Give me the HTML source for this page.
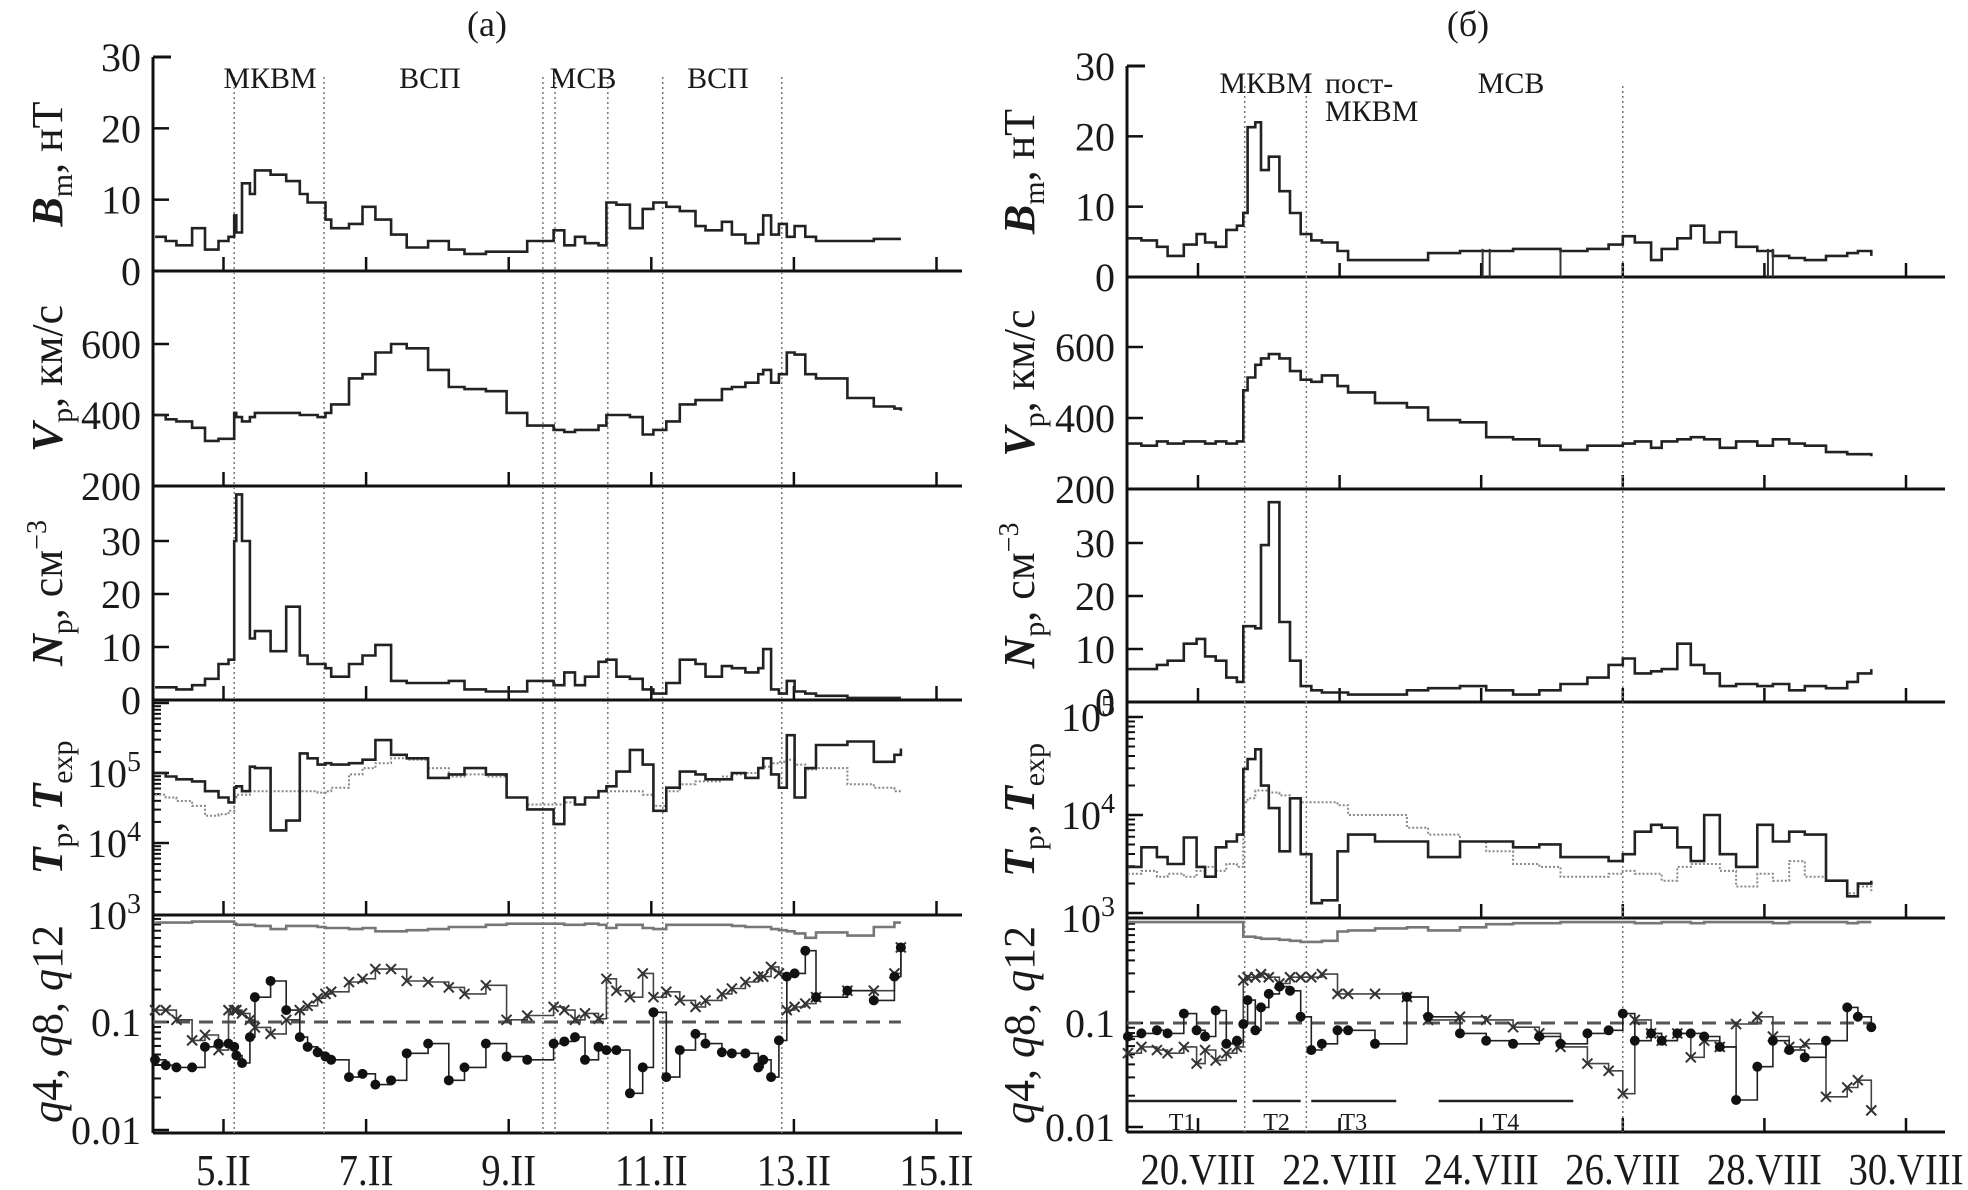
<!DOCTYPE html>
<html><head><meta charset="utf-8"><style>
html,body{margin:0;padding:0;background:#fff}
svg{display:block}
text{font-family:"Liberation Serif","DejaVu Serif",serif;fill:#1a1a1a}
</style></head><body>
<svg id="fig" width="1968" height="1190" viewBox="0 0 1968 1190" xmlns="http://www.w3.org/2000/svg">
<text x="487" y="36" font-size="36" text-anchor="middle">(а)</text>
<text x="1468" y="36" font-size="36" text-anchor="middle">(б)</text>
<g id="gA"></g>
<g id="gB"></g>
</svg>
<script>
// ---------- data: left (а), February ----------
const daysA=[4.04,4.19,4.34,4.56,4.74,4.93,5.07,5.15,5.18,5.26,5.37,5.44,5.66,5.88,6.07,6.18,6.32,6.43,6.51,6.76,6.95,7.13,7.35,7.57,7.87,8.16,8.38,8.68,8.97,9.26,9.63,9.78,9.93,10.07,10.26,10.37,10.51,10.70,10.88,11.03,11.21,11.40,11.62,11.76,11.99,12.13,12.32,12.50,12.57,12.68,12.79,12.90,13.01,13.16,13.31,13.75,14.12,14.41,14.50];
const bmA=[4.8,4.2,3.6,6.0,3.0,4.2,4.8,7.8,5.4,12.3,10.8,14.1,13.5,12.6,10.8,9.6,9.6,7.2,6.0,6.6,9.0,7.2,5.1,3.3,4.2,3.0,2.4,2.7,2.7,4.2,5.7,3.6,4.8,3.9,3.6,9.6,9.3,6.0,8.7,9.6,9.0,8.4,6.3,5.7,6.9,5.1,3.9,5.1,7.8,5.1,6.6,4.8,6.3,4.8,4.2,4.2,4.5,4.5,4.5];
const vpA=[400,388,382,364,327,333,333,406,394,382,394,406,406,406,400,400,394,406,430,503,515,576,600,588,527,479,473,467,406,370,358,352,358,358,370,400,400,394,345,358,382,430,442,442,473,479,491,515,527,491,515,576,570,515,503,448,424,418,412];
const npA=[2.4,2.4,2,2.8,4,6.8,7.6,30,38.8,30,11.6,13,9.2,17.6,8.4,6.8,6.8,6,4.4,6.8,8.4,10.4,3.6,3.2,3.2,3.6,2,1.6,1.6,3.6,2.8,5.2,2.8,4.4,7.2,7.6,4.4,4,2,1.2,3.2,7.6,6.8,4.4,6.4,6,5.2,6,9.6,2,1.2,3.6,1.6,1.2,0.8,0.4,0.4,0.4,0.4];
const logTpA=[5.0,4.95,4.91,4.88,4.74,4.65,4.58,4.79,4.81,4.74,5.09,5.07,4.18,4.32,5.28,5.21,5.12,5.14,5.12,5.14,5.19,5.47,5.26,5.21,4.93,4.98,5.07,4.98,4.65,4.48,4.27,4.65,4.55,4.65,4.74,4.81,5.02,5.33,5.12,4.46,4.79,5.02,4.98,4.91,4.91,5.0,4.93,5.07,5.21,4.98,4.79,5.54,4.65,5.07,5.40,5.45,5.16,5.26,5.35];
const logTexpA=[4.69,4.65,4.60,4.53,4.39,4.41,4.46,4.65,4.69,4.69,4.74,4.74,4.74,4.74,4.74,4.74,4.72,4.74,4.79,4.98,5.07,5.14,5.21,5.19,5.07,4.95,4.98,4.95,4.65,4.55,4.55,4.58,4.55,4.65,4.74,4.74,4.74,4.74,4.69,4.53,4.74,4.84,4.88,4.88,4.95,4.98,5.0,5.07,5.09,5.14,5.16,5.19,5.12,5.05,5.07,4.84,4.79,4.74,4.77];
const logQ4A=[-0.08,-0.08,-0.08,-0.07,-0.07,-0.07,-0.07,-0.09,-0.1,-0.1,-0.1,-0.11,-0.14,-0.11,-0.11,-0.11,-0.12,-0.13,-0.13,-0.14,-0.13,-0.16,-0.16,-0.15,-0.14,-0.12,-0.12,-0.1,-0.09,-0.09,-0.09,-0.1,-0.1,-0.09,-0.1,-0.13,-0.1,-0.1,-0.13,-0.14,-0.1,-0.1,-0.1,-0.1,-0.1,-0.11,-0.12,-0.12,-0.12,-0.14,-0.15,-0.16,-0.18,-0.22,-0.17,-0.2,-0.12,-0.08,-0.08];
const logQ8A=[-0.89,-0.89,-0.98,-1.17,-1.12,-1.26,-0.89,-0.89,-0.89,-0.92,-0.98,-1.05,-1.11,-0.98,-0.89,-0.85,-0.78,-0.74,-0.72,-0.63,-0.6,-0.51,-0.51,-0.62,-0.63,-0.68,-0.74,-0.66,-0.98,-0.94,-0.86,-0.89,-0.98,-0.92,-0.97,-0.6,-0.71,-0.77,-0.55,-0.77,-0.72,-0.8,-0.86,-0.8,-0.74,-0.69,-0.63,-0.58,-0.58,-0.49,-0.55,-0.89,-0.86,-0.83,-0.77,-0.71,-0.71,-0.55,-0.31];
const logQ12A=[-1.35,-1.4,-1.42,-1.42,-1.23,-1.2,-1.2,-1.23,-1.31,-1.38,-1.14,-0.77,-0.62,-0.89,-1.14,-1.23,-1.28,-1.32,-1.35,-1.51,-1.48,-1.58,-1.54,-1.29,-1.2,-1.54,-1.42,-1.2,-1.32,-1.35,-1.2,-1.18,-1.14,-1.35,-1.23,-1.26,-1.26,-1.66,-1.42,-0.91,-1.51,-1.26,-1.11,-1.2,-1.28,-1.29,-1.29,-1.42,-1.35,-1.51,-1.17,-0.58,-0.55,-0.34,-0.77,-0.71,-0.8,-0.58,-0.31];
const boundsA=[5.15,6.41,9.48,9.65,10.39,11.16,12.83];
const ticksA=[5,7,9,11,13,15];
const tickLabelsA=["5.II","7.II","9.II","11.II","13.II","15.II"];

// ---------- data: right (б), August ----------
const daysB=[19.01,19.20,19.42,19.57,19.80,19.98,20.10,20.25,20.40,20.55,20.64,20.70,20.81,20.89,21.0,21.15,21.30,21.45,21.60,21.75,21.97,22.12,22.50,22.95,23.25,23.70,24.07,24.45,24.82,25.12,25.50,25.80,26.0,26.17,26.40,26.55,26.77,26.96,27.15,27.37,27.60,27.90,28.12,28.35,28.57,28.87,29.17,29.32,29.51];
const bmB=[5.5,5.2,4.3,3.0,4.6,6.1,4.9,4.3,6.7,7.3,9.1,21.3,22,15.2,17.1,12.2,9.1,6.1,5.2,4.9,3.7,2.4,2.4,2.4,3.4,3.7,3.7,4.0,4.0,3.7,4.0,4.6,5.8,4.9,2.4,4.0,5.5,7.3,4.9,6.4,4.3,3.7,3.0,2.7,2.4,3.0,3.4,3.7,3.0];
const vpB=[328,322,334,328,334,334,328,334,328,334,478,514,550,568,580,568,532,508,502,520,490,472,442,430,394,388,346,340,322,310,322,322,328,334,316,334,340,346,340,316,334,322,340,328,322,304,298,298,292];
const npB=[6.2,6.2,7,7.8,11,11.9,8.6,7.8,4.6,3.8,14.3,14.3,13.9,29.6,37.7,15.1,7.8,3,2.2,1.8,1.8,1.4,1.4,2.2,2.6,3,2.2,1.4,2.2,3.4,4.6,7,8.2,5.4,5.8,6.2,11,7,5.4,3,3.4,3,3.4,2.2,3,2.6,3.8,5.4,6.2];
const logTpB=[3.47,3.67,3.57,3.5,3.77,3.47,3.37,3.67,3.73,3.8,4.47,4.57,4.67,4.3,4.07,3.63,4.17,3.6,3.1,3.13,3.63,3.8,3.73,3.73,3.57,3.73,3.73,3.67,3.7,3.57,3.57,3.53,3.6,3.83,3.9,3.87,3.67,3.53,4.0,3.6,3.47,3.9,3.73,3.83,3.8,3.33,3.17,3.3,3.33];
const logTexpB=[3.4,3.43,3.37,3.4,3.37,3.43,3.47,3.43,3.5,3.47,4.13,4.17,4.25,4.25,4.23,4.2,4.17,4.13,4.13,4.13,4.1,4.0,4.0,3.87,3.8,3.73,3.63,3.5,3.47,3.37,3.37,3.4,3.43,3.4,3.4,3.33,3.47,3.5,3.5,3.43,3.27,3.4,3.33,3.53,3.37,3.33,3.2,3.27,3.2];
const logQ4B=[-0.03,-0.03,-0.03,-0.03,-0.03,-0.03,-0.03,-0.03,-0.03,-0.03,-0.17,-0.17,-0.18,-0.19,-0.19,-0.2,-0.21,-0.22,-0.22,-0.21,-0.12,-0.11,-0.09,-0.08,-0.11,-0.08,-0.05,-0.04,-0.04,-0.03,-0.03,-0.03,-0.03,-0.04,-0.04,-0.03,-0.03,-0.04,-0.03,-0.03,-0.03,-0.03,-0.04,-0.03,-0.03,-0.03,-0.04,-0.03,-0.03];
const logQ8B=[-1.29,-1.23,-1.26,-1.29,-1.23,-1.39,-1.26,-1.36,-1.29,-1.23,-0.59,-0.56,-0.56,-0.53,-0.56,-0.62,-0.56,-0.56,-0.56,-0.53,-0.72,-0.72,-0.72,-0.75,-0.97,-0.94,-0.97,-1.04,-1.1,-1.23,-1.39,-1.46,-1.68,-0.97,-1.1,-1.17,-1.1,-1.33,-1.17,-1.23,-1.01,-0.94,-1.13,-1.23,-1.2,-1.71,-1.62,-1.55,-1.84];
const logQ12B=[-1.13,-1.1,-1.07,-1.1,-0.91,-1.07,-1.13,-0.88,-1.2,-1.17,-1.01,-0.78,-1.07,-0.85,-0.72,-0.65,-0.69,-0.94,-1.26,-1.2,-1.07,-1.07,-1.2,-0.75,-0.94,-1.1,-1.17,-1.2,-1.13,-1.2,-1.1,-1.07,-0.91,-1.17,-1.1,-1.17,-1.1,-1.1,-1.13,-1.23,-1.74,-1.42,-1.17,-1.26,-1.33,-1.17,-0.85,-0.94,-1.04];
const dropoutsB=[24.02,24.12,25.12,28.05,28.12];
const boundsB=[20.66,21.53,26.0];
const ticksB=[20,22,24,26,28,30];
const tickLabelsB=["20.VIII","22.VIII","24.VIII","26.VIII","28.VIII","30.VIII"];
const intervalsB=[[19.0,20.55,"T1"],[20.77,21.45,"T2"],[21.6,22.8,"T3"],[23.4,25.3,"T4"]];

const NS="http://www.w3.org/2000/svg";
function mk(parent,tag,attrs){const e=document.createElementNS(NS,tag);for(const k in attrs)e.setAttribute(k,attrs[k]);parent.appendChild(e);return e;}

function lin(v0,p0,v1,p1){return v=>p0+(v-v0)*(p1-p0)/(v1-v0);}
function stepPath(xs,ys){let d="";for(let i=0;i<xs.length;i++){if(i===0)d+="M"+xs[0].toFixed(1)+" "+ys[0].toFixed(1);else d+="H"+xs[i].toFixed(1)+"V"+ys[i].toFixed(1);}return d;}

function buildSide(g,cfg){
  const X=lin(cfg.d0,cfg.x0,cfg.d0+1,cfg.x0+cfg.ppd);
  const L=cfg.left,R=cfg.right;
  const p=cfg.p;
  const yB=lin(0,p.b0,30,p.b30), yV=lin(200,p.v200,600,p.v600), yN=lin(0,p.n0,30,p.n30);
  const yT=lin(3,p.t3,4,p.t4), yQ=lin(-2,p.q2,-1,p.q1);
  const top=p.b30, bottom=p.q2b;
  const bounds=[p.b0,p.v200,p.n0,p.tb,p.q2b];
  const ax=mk(g,"path",{d:"M"+L+" "+top+" H"+(L+18)+" M"+L+" "+top+" V"+bottom,stroke:"#111","stroke-width":3,fill:"none"});
  
  
  bounds.forEach((by,i)=>{const l=mk(g,"line",{x1:L,x2:R,y1:by,y2:by,stroke:"#111","stroke-width":3});
    
    
    cfg.ticks.forEach(t=>{const tk=mk(g,"line",{x1:X(t),x2:X(t),y1:by,y2:by-14,stroke:"#111","stroke-width":2.5});
      
      });
  });
  cfg.ticks.forEach((t,i)=>{const tx=mk(g,"text",{x:X(t),y:bottom+52,"font-size":44,"text-anchor":"middle",transform:"translate("+X(t)+" 0) scale(0.88 1) translate("+(-X(t))+" 0)"});tx.textContent=cfg.tickLabels[i];
    
    });
  cfg.bounds.forEach(b=>{const l=mk(g,"line",{x1:X(b),x2:X(b),y1:top+20,y2:bottom,stroke:"#777","stroke-width":1.5,"stroke-dasharray":"2 3"});
    
    });
  function ytick(y,label,sup,major){
    const t=mk(g,"line",{x1:L,x2:L+(major?16:8),y1:y,y2:y,stroke:"#111","stroke-width":major?2.5:2});
    
    
    if(label!==null){const tx=mk(g,"text",{x:L-12,y:y+14,"font-size":40,"text-anchor":"end"});
      if(sup){tx.textContent=label;const s=mk(tx,"tspan",{"font-size":28,dy:-16});s.textContent=sup;}
      else tx.textContent=label;
      
      }
  }
  [0,10,20,30].forEach(v=>ytick(yB(v),String(v),null,true));
  [200,400,600].forEach(v=>ytick(yV(v),String(v),null,true));
  [0,10,20,30].forEach(v=>ytick(yN(v),String(v),null,true));
  for(let dec=2;dec<=6;dec++)for(let m=1;m<10;m++){const lv=dec+Math.log10(m);const y=yT(lv);if(y<p.n0+2||y>p.tb-4)continue;const lab=(m===1&&(dec===4||dec===5));ytick(y,lab?"10":null,lab?String(dec):null,m===1);}
  ytick(p.tb,"10","3",true);
  for(let dec=-3;dec<=0;dec++)for(let m=1;m<10;m++){const lv=dec+Math.log10(m);const y=yQ(lv);if(y<p.tb+2||y>p.q2b+1)continue;const lab=(m===1&&dec===-1)?"0.1":(m===1&&dec===-2)?"0.01":null;ytick(y,lab,null,m===1);}
  const titles=[[(top+p.b0)/2,"B","m",", нТ"],[(p.b0+p.v200)/2,"V","p",", км/с"],[(p.v200+p.n0)/2,"N","p",", см"],[(p.n0+p.tb)/2,"T","p",", "],[(p.tb+p.q2b)/2,"q","",""]];
  titles.forEach((t,i)=>{
    const tx=mk(g,"text",{x:0,y:0,"font-size":44,"text-anchor":"middle",transform:"translate("+cfg.titleX+" "+t[0]+") rotate(-90)"});
    
    
    if(i<4){const a=mk(tx,"tspan",{"font-style":"italic","font-weight":"bold"});a.textContent=t[1];
      const b=mk(tx,"tspan",{"font-size":30,dy:10});b.textContent=t[2];
      const c=mk(tx,"tspan",{dy:-10});c.textContent=t[3];
      if(i===2){const s=mk(tx,"tspan",{"font-size":28,dy:-16});s.textContent="−3";}
      if(i===3){const a2=mk(tx,"tspan",{"font-style":"italic","font-weight":"bold"});a2.textContent="T";const b2=mk(tx,"tspan",{"font-size":30,dy:10});b2.textContent="exp";}
    } else {
      const parts=[["q","4"],["q","8"],["q","12"]];
      parts.forEach((pp,k)=>{const a=mk(tx,"tspan",{"font-style":"italic"});a.textContent=pp[0];const b=mk(tx,"tspan",{});b.textContent=pp[1]+(k<2?", ":"");});
    }
  });
  const dl=mk(g,"line",{x1:L,x2:X(cfg.days[cfg.days.length-1]),y1:yQ(-1),y2:yQ(-1),stroke:"#555","stroke-width":3,"stroke-dasharray":"14 9"});
  
  
  const xs=cfg.days.map(X);
  function series(vals,yf,name,attrs){const pth=mk(g,"path",Object.assign({d:stepPath(xs,vals.map(yf)),fill:"none","stroke-linejoin":"miter"},attrs));
    
    return pth;}
  series(cfg.bm,yB,"bm-series",{stroke:"#222","stroke-width":2.6});
  series(cfg.vp,yV,"vp-series",{stroke:"#222","stroke-width":2.6});
  series(cfg.np,v=>yN(Math.min(v,40)),"np-series",{stroke:"#222","stroke-width":2.6});
  series(cfg.texp,yT,"texp-series",{stroke:"#888","stroke-width":2,"stroke-dasharray":"2 2"});
  series(cfg.tp,yT,"tp-series",{stroke:"#222","stroke-width":2.6});
  series(cfg.q4,yQ,"q4-series",{stroke:"#777","stroke-width":2.6});
  series(cfg.q8,yQ,"q8-series",{stroke:"#444","stroke-width":1.6});
  series(cfg.q12,yQ,"q12-series",{stroke:"#222","stroke-width":1.6});
  cfg.q8.forEach((v,i)=>{const x=xs[i],y=yQ(v);const m=mk(g,"path",{d:"M"+(x-5)+" "+(y-5)+"L"+(x+5)+" "+(y+5)+"M"+(x-5)+" "+(y+5)+"L"+(x+5)+" "+(y-5),stroke:"#333","stroke-width":2});
    
    });
  cfg.q12.forEach((v,i)=>{const c=mk(g,"circle",{cx:xs[i],cy:yQ(v),r:5,fill:"#111"});
    
    });
  if(cfg.dropouts)cfg.dropouts.forEach(d=>{const l=mk(g,"line",{x1:X(d),x2:X(d),y1:p.b0,y2:yB(4),stroke:"#333","stroke-width":2});
    
    });
  cfg.regions.forEach(r=>{const tx=mk(g,"text",{x:r[0],y:r[1],"font-size":30,"text-anchor":r[3]||"middle"});tx.textContent=r[2];
    
    });
  if(cfg.intervals)cfg.intervals.forEach(iv=>{const l=mk(g,"line",{x1:X(iv[0]),x2:X(iv[1]),y1:1101,y2:1101,stroke:"#222","stroke-width":2.5});
    
    
    const tx=mk(g,"text",{x:(X(iv[0])+X(iv[1]))/2,y:1130,"font-size":24,"text-anchor":"middle"});tx.textContent=iv[2];
    
    });
}

buildSide(document.getElementById("gA"),{d0:5,x0:223.5,ppd:71.3,left:153,right:962,titleX:62,
  p:{b0:271,b30:57,v200:486,v600:344,n0:700,n30:541,t3:913,t4:843,tb:915,q2:1130,q1:1022,q2b:1133},
  days:daysA,bm:bmA,vp:vpA,np:npA,tp:logTpA,texp:logTexpA,q4:logQ4A,q8:logQ8A,q12:logQ12A,
  bounds:boundsA,ticks:ticksA,tickLabels:tickLabelsA,
  regions:[[270,88,"МКВМ"],[430,88,"ВСП"],[583,88,"МСВ"],[718,88,"ВСП"]]});
buildSide(document.getElementById("gB"),{d0:20,x0:1198,ppd:70.8,left:1127,right:1945,titleX:1034,
  p:{b0:277,b30:66,v200:489,v600:347,n0:702,n30:543,t3:913,t4:815,tb:918,q2:1127,q1:1023,q2b:1132},
  days:daysB,bm:bmB,vp:vpB,np:npB,tp:logTpB,texp:logTexpB,q4:logQ4B,q8:logQ8B,q12:logQ12B,
  bounds:boundsB,ticks:ticksB,tickLabels:tickLabelsB,dropouts:dropoutsB,intervals:intervalsB,
  regions:[[1266,93,"МКВМ"],[1325,93,"пост-","start"],[1325,121,"МКВМ","start"],[1511,93,"МСВ"]]});
</script>
</body></html>
